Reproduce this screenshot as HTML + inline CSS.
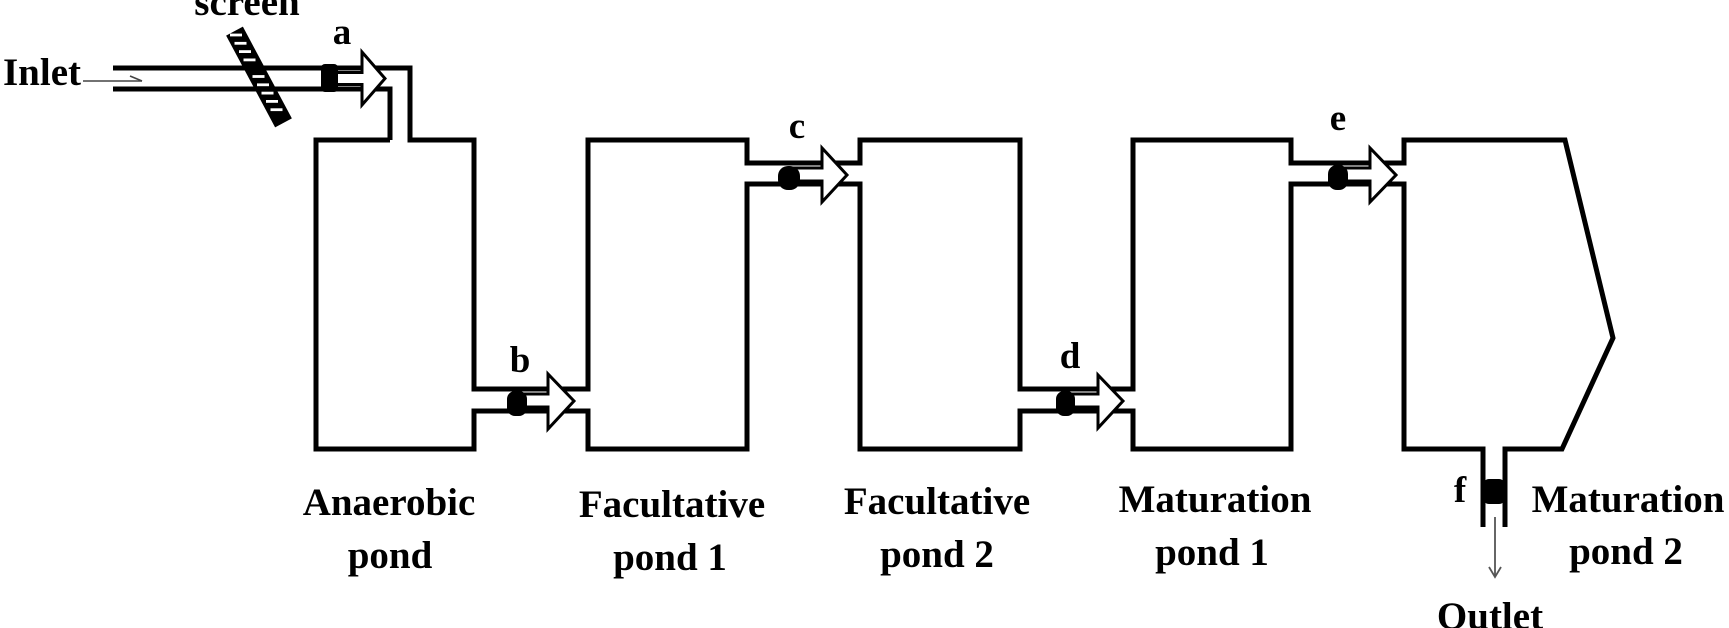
<!DOCTYPE html>
<html>
<head>
<meta charset="utf-8">
<style>
html,body{margin:0;padding:0;background:#fff;}
svg{display:block;}
text{font-family:"Liberation Serif",serif;font-weight:bold;fill:#000;}
</style>
</head>
<body>
<svg width="1729" height="628" viewBox="0 0 1729 628" xmlns="http://www.w3.org/2000/svg">
  <!-- screen bar -->
  <g>
    <rect x="-52" y="-9.5" width="104" height="19" fill="#000" transform="translate(259,77) rotate(61.9)"/>
    <g stroke="#fff" stroke-width="2.8">
      <line x1="230" y1="35" x2="242" y2="35"/>
      <line x1="234.5" y1="43.3" x2="246.5" y2="43.3"/>
      <line x1="239" y1="51.6" x2="251" y2="51.6"/>
      <line x1="243.5" y1="59.9" x2="255.5" y2="59.9"/>
      <line x1="248" y1="68.2" x2="260" y2="68.2"/>
      <line x1="252.5" y1="76.5" x2="264.5" y2="76.5"/>
      <line x1="257" y1="84.8" x2="269" y2="84.8"/>
      <line x1="261.5" y1="93.1" x2="273.5" y2="93.1"/>
      <line x1="266" y1="101.4" x2="278" y2="101.4"/>
      <line x1="270.5" y1="109.7" x2="282.5" y2="109.7"/>
    </g>
  </g>

  <!-- pond outlines -->
  <g fill="none" stroke="#000" stroke-width="5" stroke-linejoin="miter" stroke-linecap="butt">
    <polyline points="390,140 316,140 316,449 474,449 474,411 588,411 588,449 747,449 747,184 860,184 860,449 1020,449 1020,411 1133,411 1133,449 1291,449 1291,184 1404,184 1404,449 1483,449 1483,527"/>
    <polyline points="1505,527 1505,449 1562,449 1613,338 1565,140 1404,140 1404,163 1291,163 1291,140 1133,140 1133,389 1020,389 1020,140 860,140 860,163 747,163 747,140 588,140 588,389 474,389 474,140 410,140 410,68 113,68"/>
    <polyline points="113,89 390,89 390,140"/>
  </g>

  <!-- inlet thin arrow -->
  <g stroke="#444" stroke-width="1.6" fill="none">
    <line x1="83" y1="81" x2="142" y2="81"/>
    <line x1="130" y1="76" x2="142" y2="81"/>
  </g>

  <!-- outlet thin arrow -->
  <g stroke="#555" stroke-width="1.8" fill="none">
    <line x1="1495" y1="517" x2="1495" y2="577"/>
    <polyline points="1489,567 1495,577 1501,567"/>
  </g>

  <!-- flow arrows -->
  <g fill="#fff" stroke="#000" stroke-width="3" stroke-linejoin="miter">
    <!-- a -->
    <polygon points="330,72.5 362,72.5 362,52 385,78.5 362,105 362,84.5 330,84.5"/>
    <!-- b -->
    <polygon points="517,394 548,394 548,374 574,401 548,429 548,407 517,407"/>
    <!-- c -->
    <polygon points="789,168 822,168 822,148 847,175 822,202 822,181 789,181"/>
    <!-- d -->
    <polygon points="1066,394 1098,394 1098,375 1123,401 1098,428 1098,407 1066,407"/>
    <!-- e -->
    <polygon points="1338,168 1370,168 1370,148 1396,175 1370,202 1370,181 1338,181"/>
  </g>

  <!-- blobs -->
  <g fill="#000">
    <rect x="321" y="64" width="17" height="28" rx="4"/>
    <rect x="507" y="391" width="20" height="25" rx="8"/>
    <rect x="778" y="166" width="22" height="24" rx="10"/>
    <rect x="1056" y="391" width="19" height="25" rx="8"/>
    <rect x="1328" y="165" width="20" height="25" rx="9"/>
    <rect x="1483" y="479" width="22" height="25" rx="6"/>
  </g>

  <!-- labels -->
  <g font-size="39">
    <text x="247" y="15" text-anchor="middle">screen</text>
    <text x="3" y="85">Inlet</text>
    <text x="389" y="515" text-anchor="middle">Anaerobic</text>
    <text x="390" y="568" text-anchor="middle">pond</text>
    <text x="672" y="517" text-anchor="middle">Facultative</text>
    <text x="670" y="570" text-anchor="middle">pond 1</text>
    <text x="937" y="514" text-anchor="middle">Facultative</text>
    <text x="937" y="567" text-anchor="middle">pond 2</text>
    <text x="1215" y="512" text-anchor="middle">Maturation</text>
    <text x="1212" y="565" text-anchor="middle">pond 1</text>
    <text x="1628" y="512" text-anchor="middle">Maturation</text>
    <text x="1626" y="564" text-anchor="middle">pond 2</text>
    <text x="1490" y="629" text-anchor="middle">Outlet</text>
  </g>
  <g font-size="37" text-anchor="middle">
    <text x="342" y="44">a</text>
    <text x="520" y="372">b</text>
    <text x="797" y="138">c</text>
    <text x="1070" y="368">d</text>
    <text x="1338" y="130">e</text>
    <text x="1460" y="502">f</text>
  </g>
</svg>
</body>
</html>
